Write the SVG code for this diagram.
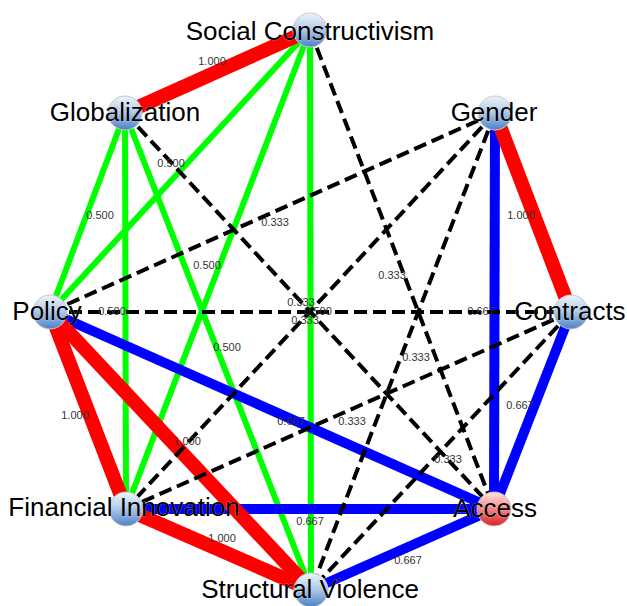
<svg xmlns="http://www.w3.org/2000/svg" width="627" height="606" viewBox="0 0 627 606">
<defs>
<linearGradient id="gb" x1="0" y1="0" x2="0" y2="1">
<stop offset="0" stop-color="#eef4fb"/><stop offset="0.45" stop-color="#b5cdea"/><stop offset="1" stop-color="#4a82c8"/>
</linearGradient>
<linearGradient id="gr" x1="0" y1="0" x2="0" y2="1">
<stop offset="0" stop-color="#ffe4e4"/><stop offset="0.45" stop-color="#f59090"/><stop offset="1" stop-color="#dd2020"/>
</linearGradient>
</defs>
<style>
.d{stroke:#000;stroke-width:4;stroke-dasharray:13 6;fill:none}
.g{stroke:#00ff00;stroke-width:6;fill:none}
.b{stroke:#0000ff;stroke-width:10;fill:none}
.r{stroke:#ff0000;stroke-width:14;fill:none}
.el{font-family:"Liberation Sans",Arial,sans-serif;font-size:11px;fill:#333;text-anchor:middle}
.nl{font-family:"Liberation Sans",Arial,sans-serif;font-size:26px;fill:#000;text-anchor:middle;stroke:#fff;stroke-width:0.6;stroke-opacity:0.6;paint-order:stroke}
.c{stroke:#c8c8c8;stroke-width:1}
</style>
<rect width="627" height="606" fill="#fff"/>
<g id="connectors">
<line class="g" x1="310" y1="30" x2="50" y2="312"/>
<line class="g" x1="310" y1="30" x2="126" y2="509"/>
<line class="g" x1="310" y1="30" x2="311" y2="590"/>
<line class="g" x1="125" y1="113" x2="50" y2="312"/>
<line class="g" x1="125" y1="113" x2="126" y2="509"/>
<line class="g" x1="125" y1="113" x2="311" y2="590"/>
<line class="b" x1="495" y1="113" x2="494" y2="509"/>
<line class="b" x1="571" y1="312" x2="494" y2="509"/>
<line class="b" x1="494" y1="509" x2="311" y2="590"/>
<line class="b" x1="126" y1="509" x2="494" y2="509"/>
<line class="b" x1="50" y1="312" x2="494" y2="509"/>
<line class="r" x1="310" y1="30" x2="125" y2="113"/>
<line class="r" x1="495" y1="113" x2="571" y2="312"/>
<line class="r" x1="50" y1="312" x2="126" y2="509"/>
<line class="r" x1="50" y1="312" x2="311" y2="590"/>
<line class="r" x1="126" y1="509" x2="311" y2="590"/>
<line class="d" x1="310" y1="30" x2="494" y2="509"/>
<line class="d" x1="125" y1="113" x2="494" y2="509"/>
<line class="d" x1="50" y1="312" x2="495" y2="113"/>
<line class="d" x1="50" y1="312" x2="571" y2="312"/>
<line class="d" x1="495" y1="113" x2="126" y2="509"/>
<line class="d" x1="495" y1="113" x2="311" y2="590"/>
<line class="d" x1="571" y1="312" x2="126" y2="509"/>
<line class="d" x1="571" y1="312" x2="311" y2="590"/>
<text class="el" x="212" y="65">1.000</text>
<text class="el" x="521" y="219">1.000</text>
<text class="el" x="75" y="419">1.000</text>
<text class="el" x="187" y="445">1.000</text>
<text class="el" x="222" y="542">1.000</text>
<text class="el" x="100" y="219">0.500</text>
<text class="el" x="171" y="167">0.500</text>
<text class="el" x="207" y="269">0.500</text>
<text class="el" x="227" y="351">0.500</text>
<text class="el" x="112" y="315">0.500</text>
<text class="el" x="301" y="306">0.333</text>
<text class="el" x="318" y="315">0.500</text>
<text class="el" x="305" y="324">0.333</text>
<text class="el" x="275" y="226">0.333</text>
<text class="el" x="392" y="279">0.333</text>
<text class="el" x="416" y="361">0.333</text>
<text class="el" x="352" y="425">0.333</text>
<text class="el" x="448" y="463">0.333</text>
<text class="el" x="481" y="315">0.667</text>
<text class="el" x="520" y="409">0.667</text>
<text class="el" x="408" y="564">0.667</text>
<text class="el" x="310" y="525">0.667</text>
<text class="el" x="291" y="425">0.667</text>
</g>
<g id="social-constructivism"><circle class="c" cx="310" cy="30" r="17" fill="url(#gb)"/><text class="nl" x="310" y="40">Social Constructivism</text></g>
<g id="globalization"><circle class="c" cx="125" cy="113" r="17" fill="url(#gb)"/><text class="nl" x="125" y="121">Globalization</text></g>
<g id="gender"><circle class="c" cx="495" cy="113" r="17" fill="url(#gb)"/><text class="nl" x="494" y="121">Gender</text></g>
<g id="policy"><circle class="c" cx="50" cy="312" r="17" fill="url(#gb)"/><text class="nl" x="47" y="320">Policy</text></g>
<g id="contracts"><circle class="c" cx="571" cy="312" r="17" fill="url(#gb)"/><text class="nl" x="570" y="320">Contracts</text></g>
<g id="financial-innovation"><circle class="c" cx="126" cy="509" r="17" fill="url(#gb)"/><text class="nl" x="124" y="516">Financial Innovation</text></g>
<g id="access"><circle class="c" cx="494" cy="509" r="17" fill="url(#gr)"/><text class="nl" x="495" y="517">Access</text></g>
<g id="structural-violence"><circle class="c" cx="311" cy="590" r="17" fill="url(#gb)"/><text class="nl" x="310" y="598">Structural Violence</text></g>
</svg>
